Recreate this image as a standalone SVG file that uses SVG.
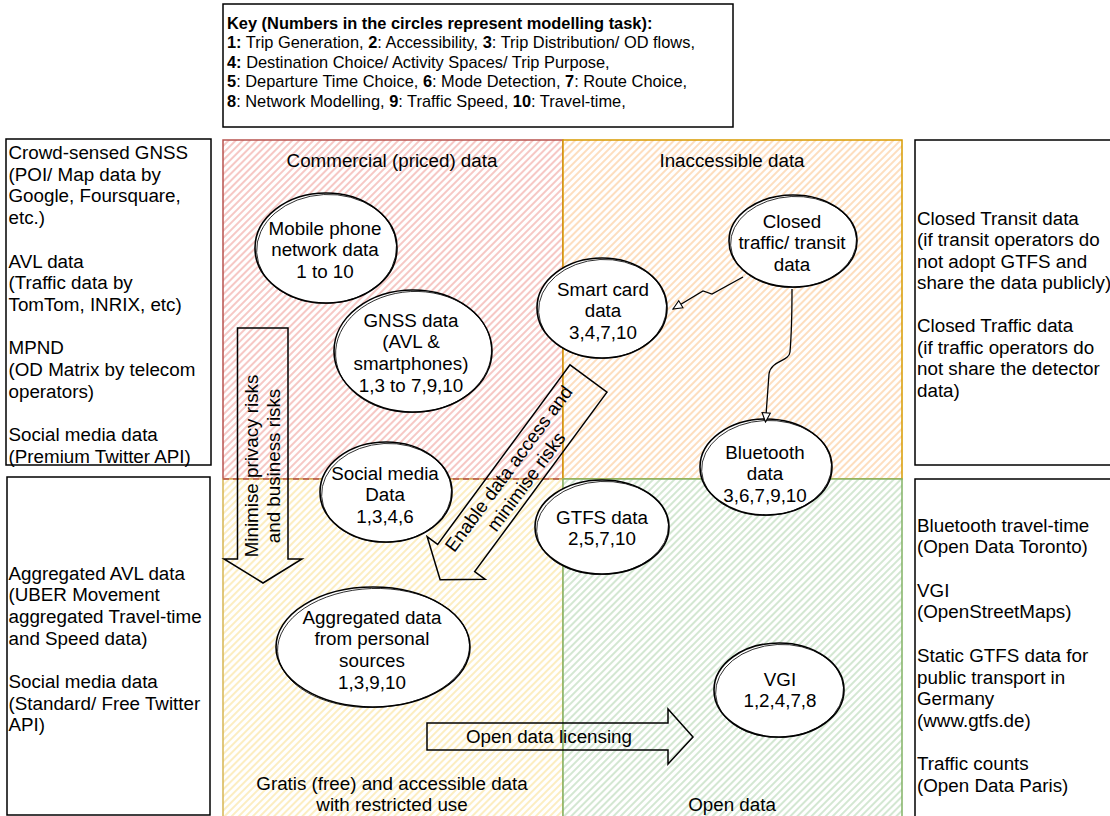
<svg xmlns="http://www.w3.org/2000/svg" width="1110" height="816" viewBox="0 0 1110 816">
<defs>
<style>
.t{font-family:"Liberation Sans",Arial,Helvetica,sans-serif;font-size:18.8px;fill:#000}
.c{text-anchor:middle}
.k{font-size:16.4px}
.b{font-weight:bold}
.box{fill:#fff;stroke:#000;stroke-width:1.5}
.n{fill:#fff;stroke:#000;stroke-width:1.6}
.n2{fill:none;stroke:#000;stroke-width:0.8}
.ar{fill:none;stroke:#000;stroke-width:1.5;stroke-linejoin:miter}
.cn{fill:none;stroke:#000;stroke-width:1.3}
</style>
<pattern id="hR" width="5" height="5" patternUnits="userSpaceOnUse" patternTransform="rotate(45)"><rect width="5" height="5" fill="#fff"/><line x1="1" y1="0" x2="1" y2="5" stroke="#f5c2bf" stroke-width="1.8"/></pattern>
<pattern id="hO" width="5" height="5" patternUnits="userSpaceOnUse" patternTransform="rotate(45)"><rect width="5" height="5" fill="#fff"/><line x1="1" y1="0" x2="1" y2="5" stroke="#fddbb8" stroke-width="1.8"/></pattern>
<pattern id="hY" width="5" height="5" patternUnits="userSpaceOnUse" patternTransform="rotate(45)"><rect width="5" height="5" fill="#fff"/><line x1="1" y1="0" x2="1" y2="5" stroke="#fcecbb" stroke-width="1.8"/></pattern>
<pattern id="hG" width="5" height="5" patternUnits="userSpaceOnUse" patternTransform="rotate(45)"><rect width="5" height="5" fill="#fff"/><line x1="1" y1="0" x2="1" y2="5" stroke="#cfe5cd" stroke-width="1.8"/></pattern>
<marker id="ah" viewBox="0 0 12 12" refX="11" refY="6" markerWidth="11" markerHeight="11" markerUnits="userSpaceOnUse" orient="auto"><path d="M1,1.5 L11,6 L1,10.5 Z" fill="#fff" stroke="#000" stroke-width="1.2"/></marker>
</defs>
<rect width="1110" height="816" fill="#fff"/>

<g id="quadrants">
<rect id="q-commercial" x="223" y="140" width="340" height="339" fill="url(#hR)" stroke="#b85450" stroke-width="1.5"/>
<rect id="q-inaccessible" x="563" y="140" width="339" height="339" fill="url(#hO)" stroke="#d79b00" stroke-width="1.5"/>
<rect id="q-gratis" x="223" y="479" width="340" height="345" fill="url(#hY)" stroke="#d6b656" stroke-width="1.5"/>
<rect id="q-open" x="563" y="479" width="339" height="345" fill="url(#hG)" stroke="#82b366" stroke-width="1.5"/>
<line x1="223" y1="479" x2="563" y2="479" stroke="#b85450" stroke-width="1.3" stroke-dasharray="6 4"/>
<text class="t c" x="392" y="166.6">Commercial (priced) data</text>
<text class="t c" x="732" y="166.6">Inaccessible data</text>
<text class="t c" x="392" y="789.6">Gratis (free) and accessible data</text>
<text class="t c" x="392" y="810.5">with restricted use</text>
<text class="t c" x="732" y="810.5">Open data</text>
</g>

<g id="key">
<rect class="box" x="223" y="4" width="510" height="123"/>
<text class="t k" x="227" y="28.5"><tspan class="b">Key (Numbers in the circles represent modelling task):</tspan></text>
<text class="t k" x="227" y="48"><tspan class="b">1:</tspan> Trip Generation, <tspan class="b">2</tspan>: Accessibility, <tspan class="b">3</tspan>: Trip Distribution/ OD flows,</text>
<text class="t k" x="227" y="67.5"><tspan class="b">4:</tspan> Destination Choice/ Activity Spaces/ Trip Purpose,</text>
<text class="t k" x="227" y="87"><tspan class="b">5</tspan>: Departure Time Choice, <tspan class="b">6</tspan>: Mode Detection, <tspan class="b">7</tspan>: Route Choice,</text>
<text class="t k" x="227" y="106.5"><tspan class="b">8</tspan>: Network Modelling, <tspan class="b">9</tspan>: Traffic Speed, <tspan class="b">10</tspan>: Travel-time,</text>
</g>

<g id="left-commercial-examples">
<rect class="box" x="6" y="139" width="205" height="326"/>
<text class="t" x="8.5" y="159">Crowd-sensed GNSS</text>
<text class="t" x="8.5" y="180.7">(POI/ Map data by</text>
<text class="t" x="8.5" y="202.4">Google, Foursquare,</text>
<text class="t" x="8.5" y="224.1">etc.)</text>
<text class="t" x="8.5" y="267.5">AVL data</text>
<text class="t" x="8.5" y="289.2">(Traffic data by</text>
<text class="t" x="8.5" y="310.9">TomTom, INRIX, etc)</text>
<text class="t" x="8.5" y="354.3">MPND</text>
<text class="t" x="8.5" y="376">(OD Matrix by telecom</text>
<text class="t" x="8.5" y="397.7">operators)</text>
<text class="t" x="8.5" y="441.1">Social media data</text>
<text class="t" x="8.5" y="462.8">(Premium Twitter API)</text>
</g>

<g id="left-gratis-examples">
<rect class="box" x="7" y="477" width="203" height="338"/>
<text class="t" x="8.5" y="579.6">Aggregated AVL data</text>
<text class="t" x="8.5" y="601.3">(UBER Movement</text>
<text class="t" x="8.5" y="623">aggregated Travel-time</text>
<text class="t" x="8.5" y="644.7">and Speed data)</text>
<text class="t" x="8.5" y="688">Social media data</text>
<text class="t" x="8.5" y="709.7">(Standard/ Free Twitter</text>
<text class="t" x="8.5" y="731.4">API)</text>
</g>

<g id="right-inaccessible-examples">
<rect class="box" x="915" y="140" width="210" height="325"/>
<text class="t" x="917" y="224.6">Closed Transit data</text>
<text class="t" x="917" y="246.1">(if transit operators do</text>
<text class="t" x="917" y="267.6">not adopt GTFS and</text>
<text class="t" x="917" y="289.1">share the data publicly)</text>
<text class="t" x="917" y="332.1">Closed Traffic data</text>
<text class="t" x="917" y="353.6">(if traffic operators do</text>
<text class="t" x="917" y="375.1">not share the detector</text>
<text class="t" x="917" y="396.6">data)</text>
</g>

<g id="right-open-examples">
<rect class="box" x="915" y="479" width="210" height="345"/>
<text class="t" x="917" y="531.6">Bluetooth travel-time</text>
<text class="t" x="917" y="553.3">(Open Data Toronto)</text>
<text class="t" x="917" y="596.7">VGI</text>
<text class="t" x="917" y="618.4">(OpenStreetMaps)</text>
<text class="t" x="917" y="661.8">Static GTFS data for</text>
<text class="t" x="917" y="683.5">public transport in</text>
<text class="t" x="917" y="705.2">Germany</text>
<text class="t" x="917" y="726.9">(www.gtfs.de)</text>
<text class="t" x="917" y="770.3">Traffic counts</text>
<text class="t" x="917" y="792">(Open Data Paris)</text>
</g>

<g id="arrow-minimise">
<path class="ar" d="M237.5,328 L288,328 L288,559 L302,559 L263,583 L224,559 L237.5,559 Z"/>
<g transform="translate(262.5,466) rotate(-90)">
<text class="t c" x="0" y="-4.3">Minimise privacy risks</text>
<text class="t c" x="0" y="17.4">and business risks</text>
</g>
</g>

<g id="arrow-enable">
<path class="ar" transform="translate(588.5,378.5) rotate(126.4)" d="M0,-23 L223,-23 L223,-36 L250,0 L223,36 L223,23 L0,23 Z"/>
<g transform="translate(517.3,475.1) rotate(-53.6)">
<text class="t c" x="0" y="-4.3">Enable data access and</text>
<text class="t c" x="0" y="17.4">minimise risks</text>
</g>
</g>

<g id="arrow-open-licensing">
<path class="ar" d="M427,723 L668,723 L668,709 L693,737 L668,764 L668,750 L427,750 Z"/>
<text class="t c" x="549" y="742.5">Open data licensing</text>
</g>

<g id="node-mobile">
<ellipse class="n" cx="326" cy="248" rx="71" ry="55"/>
<ellipse class="n2" cx="326.5" cy="249" rx="70" ry="54.5" transform="rotate(-3 326 248)"/>
<text class="t c" x="325" y="234.6">Mobile phone</text>
<text class="t c" x="325" y="256.3">network data</text>
<text class="t c" x="325" y="278">1 to 10</text>
</g>

<g id="node-gnss">
<ellipse class="n" cx="413" cy="351" rx="79" ry="61"/>
<ellipse class="n2" cx="413.5" cy="352" rx="78" ry="60.5" transform="rotate(-3 413 351)"/>
<text class="t c" x="411" y="326.6">GNSS data</text>
<text class="t c" x="411" y="348.3">(AVL &amp;</text>
<text class="t c" x="411" y="370">smartphones)</text>
<text class="t c" x="411" y="391.7">1,3 to 7,9,10</text>
</g>

<g id="node-smartcard">
<ellipse class="n" cx="602" cy="308" rx="65" ry="50"/>
<ellipse class="n2" cx="602.5" cy="309" rx="64" ry="49.5" transform="rotate(-3 602 308)"/>
<text class="t c" x="603" y="295.6">Smart card</text>
<text class="t c" x="603" y="317.3">data</text>
<text class="t c" x="603" y="339">3,4,7,10</text>
</g>

<g id="node-closed">
<ellipse class="n" cx="793" cy="241" rx="64" ry="46"/>
<ellipse class="n2" cx="793.5" cy="242" rx="63" ry="45.5" transform="rotate(-3 793 241)"/>
<text class="t c" x="792" y="227.6">Closed</text>
<text class="t c" x="792" y="249.3">traffic/ transit</text>
<text class="t c" x="792" y="271">data</text>
</g>

<g id="node-bluetooth">
<ellipse class="n" cx="766" cy="467" rx="66" ry="48"/>
<ellipse class="n2" cx="766.5" cy="468" rx="65" ry="47.5" transform="rotate(-3 766 467)"/>
<text class="t c" x="765" y="458.6">Bluetooth</text>
<text class="t c" x="765" y="480.3">data</text>
<text class="t c" x="765" y="502">3,6,7,9,10</text>
</g>

<g id="node-social">
<ellipse class="n" cx="386" cy="492" rx="66" ry="50"/>
<ellipse class="n2" cx="386.5" cy="493" rx="65" ry="49.5" transform="rotate(-3 386 492)"/>
<text class="t c" x="385" y="479.6">Social media</text>
<text class="t c" x="385" y="501.3">Data</text>
<text class="t c" x="385" y="523">1,3,4,6</text>
</g>

<g id="node-gtfs">
<ellipse class="n" cx="602" cy="527" rx="67" ry="47"/>
<ellipse class="n2" cx="602.5" cy="528" rx="66" ry="46.5" transform="rotate(-3 602 527)"/>
<text class="t c" x="602" y="523.6">GTFS data</text>
<text class="t c" x="602" y="545.3">2,5,7,10</text>
</g>

<g id="node-aggregated">
<ellipse class="n" cx="373" cy="647" rx="97" ry="60"/>
<ellipse class="n2" cx="373.5" cy="648" rx="96" ry="59.5" transform="rotate(-2 373 647)"/>
<text class="t c" x="372" y="623.6">Aggregated data</text>
<text class="t c" x="372" y="645.3">from personal</text>
<text class="t c" x="372" y="667">sources</text>
<text class="t c" x="372" y="688.7">1,3,9,10</text>
</g>

<g id="node-vgi">
<ellipse class="n" cx="779" cy="690" rx="65" ry="47"/>
<ellipse class="n2" cx="779.5" cy="691" rx="64" ry="46.5" transform="rotate(-3 779 690)"/>
<text class="t c" x="780" y="685.6">VGI</text>
<text class="t c" x="780" y="707.3">1,2,4,7,8</text>
</g>

<g id="connectors">
<path class="cn" d="M743,277 L712,294 L703,291 L673,309" marker-end="url(#ah)"/>
<path class="cn" d="M792,289 C792,318 791,340 790,352 C789,362 771,360 769,374 L765.5,422" marker-end="url(#ah)"/>
</g>
</svg>
